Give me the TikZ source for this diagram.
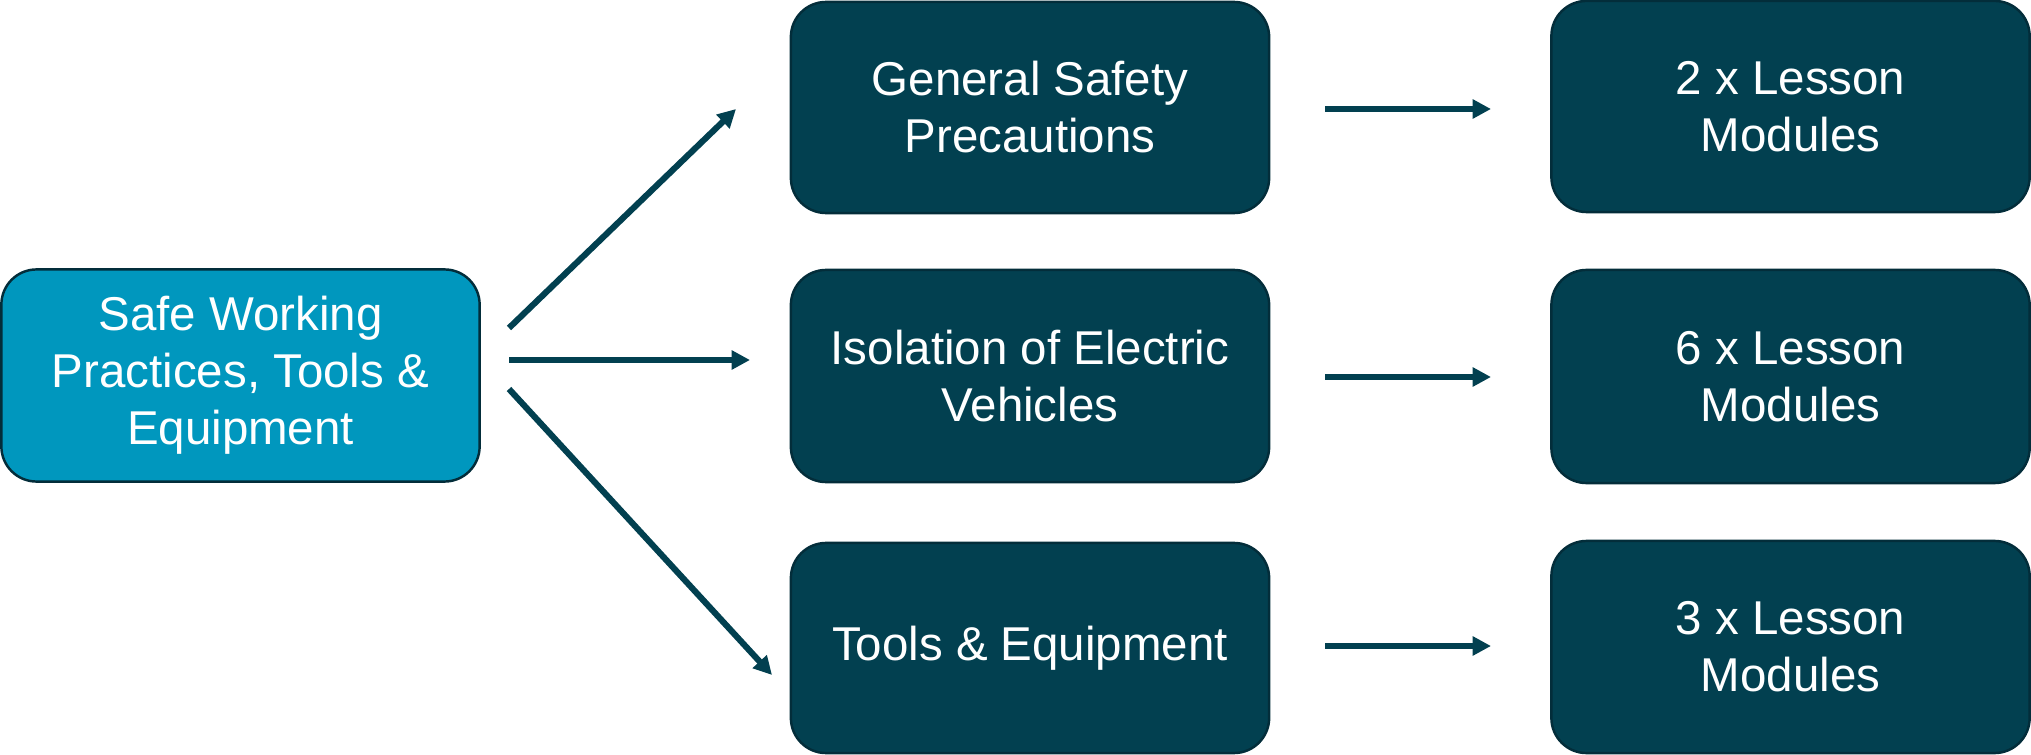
\documentclass[tikz,border=0pt]{standalone}
\usepackage{fontspec}
\setmainfont{Liberation Sans}
\usetikzlibrary{arrows.meta}
\definecolor{lightblue}{RGB}{0,151,190}
\definecolor{darkteal}{RGB}{2,64,80}
\definecolor{edgecol}{RGB}{3,45,58}
\begin{document}
\begin{tikzpicture}[x=0.01cm,y=-0.01cm,
  box/.style={draw=edgecol,line width=0.7pt,rounded corners=10pt,inner sep=0pt,
    text=white,align=center,font=\fontsize{13.5}{16.2}\selectfont,
    minimum width=4.78cm},
  mainbox/.style={box,fill=lightblue},
  subbox/.style={box,fill=darkteal},
  conn/.style={draw=darkteal,line width=1.75pt,-{Triangle[length=5.2pt,width=5.2pt]}}]
\useasboundingbox (0,0) rectangle (2031,755);
% boxes
\node[mainbox,minimum height=2.12cm] (L) at (240.5,375.5) {Safe Working\\Practices, Tools \&\\Equipment};
\node[subbox,minimum height=2.11cm] (M1) at (1030,107.5) {General Safety\\Precautions};
\node[subbox,minimum height=2.12cm] (M2) at (1030,376) {Isolation of Electric\\Vehicles};
\node[subbox,minimum height=2.10cm] (M3) at (1030,648) {Tools \& Equipment};
\node[subbox,minimum height=2.11cm] (R1) at (1790.5,106.5) {2 x Lesson\\Modules};
\node[subbox,minimum height=2.13cm] (R2) at (1790.5,376.5) {6 x Lesson\\Modules};
\node[subbox,minimum height=2.12cm] (R3) at (1790.5,647) {3 x Lesson\\Modules};
% connector end points
\coordinate (a1) at (509,328);
\coordinate (b1) at (736,109);
\coordinate (a2) at (509,360);
\coordinate (b2) at (750,360);
\coordinate (a3) at (509,389);
\coordinate (b3) at (772,675);
\coordinate (c1) at (1325,109);
\coordinate (d1) at (1491,109);
\coordinate (c2) at (1325,377);
\coordinate (d2) at (1491,377);
\coordinate (c3) at (1325,646);
\coordinate (d3) at (1491,646);
\draw[conn] (a1) -- (b1);
\draw[conn] (a2) -- (b2);
\draw[conn] (a3) -- (b3);
\draw[conn] (c1) -- (d1);
\draw[conn] (c2) -- (d2);
\draw[conn] (c3) -- (d3);
\end{tikzpicture}
\end{document}
